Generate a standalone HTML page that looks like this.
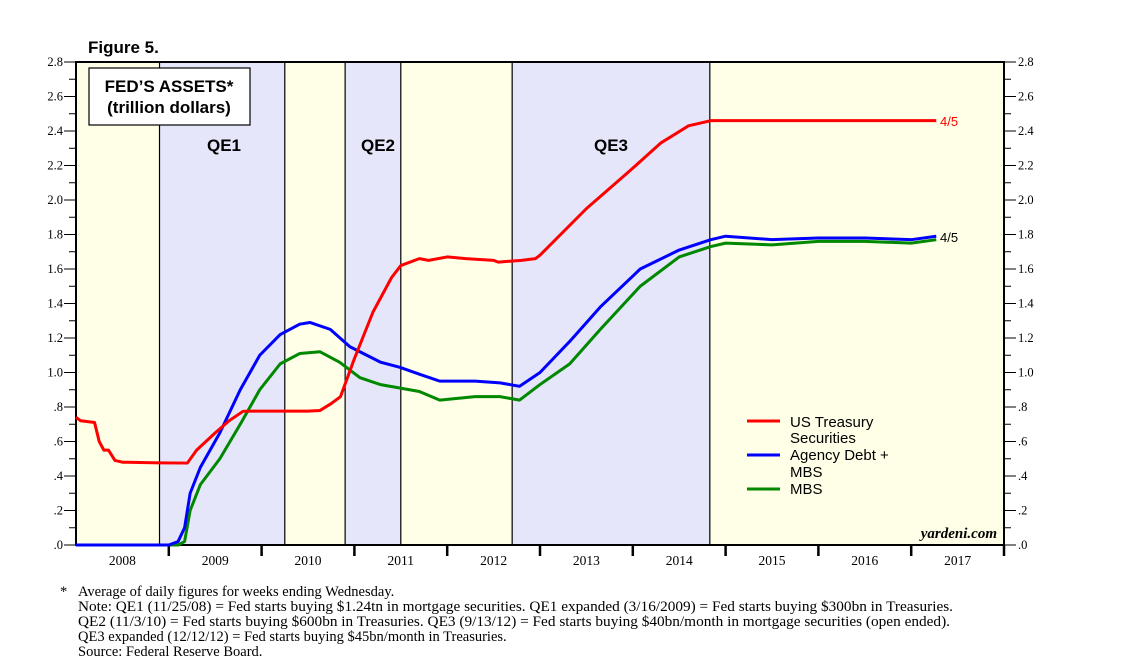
<!DOCTYPE html>
<html><head><meta charset="utf-8"><style>
body{margin:0;background:#fff;width:1138px;height:670px;overflow:hidden}
svg{display:block}
.s{font-family:"Liberation Sans",sans-serif}
.r{font-family:"Liberation Serif",serif}
</style></head><body>
<svg id="c" width="1138" height="670">
<text x="88" y="53" class="s" font-size="17" font-weight="bold">Figure 5.</text>
<g id="bands"></g>
<g id="axes"></g>
<g id="lines"></g>
<rect x="89" y="68" width="161" height="57" fill="#fff" stroke="#000" stroke-width="1.2"/>
<text x="169" y="92" text-anchor="middle" class="s" font-size="17" font-weight="bold">FED’S ASSETS*</text>
<text x="169" y="113" text-anchor="middle" class="s" font-size="17" font-weight="bold">(trillion dollars)</text>
<text x="224" y="151" text-anchor="middle" class="s" font-size="17" font-weight="bold">QE1</text>
<text x="378" y="151" text-anchor="middle" class="s" font-size="17" font-weight="bold">QE2</text>
<text x="611" y="151" text-anchor="middle" class="s" font-size="17" font-weight="bold">QE3</text>
<g>
<line x1="747" y1="421" x2="780" y2="421" stroke="#f00" stroke-width="3"/>
<text x="790" y="427" class="s" font-size="15">US Treasury</text>
<text x="790" y="443" class="s" font-size="15">Securities</text>
<line x1="747" y1="455" x2="780" y2="455" stroke="#00f" stroke-width="3"/>
<text x="790" y="460" class="s" font-size="15">Agency Debt +</text>
<text x="790" y="477" class="s" font-size="15">MBS</text>
<line x1="747" y1="489" x2="780" y2="489" stroke="#080" stroke-width="3"/>
<text x="790" y="494" class="s" font-size="15">MBS</text>
</g>
<text x="997" y="538" text-anchor="end" class="r" font-size="15" font-style="italic" font-weight="bold">yardeni.com</text>
<text x="940" y="126" class="s" font-size="13" fill="#f00">4/5</text>
<text x="940" y="242" class="s" font-size="13">4/5</text>
<g class="r" font-size="14.5">
<text x="60" y="596">*</text>
<text x="78" y="596">Average of daily figures for weeks ending Wednesday.</text>
<text x="78" y="611" textLength="875" lengthAdjust="spacingAndGlyphs">Note: QE1 (11/25/08) = Fed starts buying $1.24tn in mortgage securities. QE1 expanded (3/16/2009) = Fed starts buying $300bn in Treasuries.</text>
<text x="78" y="626" textLength="872" lengthAdjust="spacingAndGlyphs">QE2 (11/3/10) = Fed starts buying $600bn in Treasuries. QE3 (9/13/12) = Fed starts buying $40bn/month in mortgage securities (open ended).</text>
<text x="78" y="641">QE3 expanded (12/12/12) = Fed starts buying $45bn/month in Treasuries.</text>
<text x="78" y="656">Source: Federal Reserve Board.</text>
</g>
</svg>
<script>
const years=[2008,2009,2010,2011,2012,2013,2014,2015,2016,2017];
const yTicks=[0,0.2,0.4,0.6,0.8,1.0,1.2,1.4,1.6,1.8,2.0,2.2,2.4,2.6,2.8];
const yTickLabels=[".0",".2",".4",".6",".8","1.0","1.2","1.4","1.6","1.8","2.0","2.2","2.4","2.6","2.8"];
const bandStarts=[2008,2008.9,2010.25,2010.9,2011.5,2012.7,2014.83];
const bandEnds=[2008.9,2010.25,2010.9,2011.5,2012.7,2014.83,2018];
const bandKinds=["y","b","y","b","y","b","y"];
const tT=[2008,2008.05,2008.2,2008.25,2008.3,2008.35,2008.42,2008.5,2008.9,2009.2,2009.3,2009.5,2009.65,2009.8,2009.9,2010.5,2010.63,2010.75,2010.85,2011.0,2011.2,2011.4,2011.5,2011.7,2011.8,2012.0,2012.2,2012.5,2012.55,2012.8,2012.95,2013.0,2013.5,2013.97,2014.3,2014.6,2014.84,2017.27];
const tV=[0.74,0.72,0.71,0.6,0.55,0.55,0.49,0.48,0.476,0.475,0.55,0.65,0.72,0.775,0.776,0.776,0.78,0.82,0.86,1.08,1.35,1.55,1.62,1.66,1.65,1.67,1.66,1.65,1.64,1.65,1.66,1.68,1.95,2.17,2.33,2.43,2.46,2.46];
const aT=[2008,2009.0,2009.1,2009.17,2009.23,2009.34,2009.55,2009.77,2009.98,2010.2,2010.41,2010.52,2010.74,2010.95,2011.28,2011.49,2011.7,2011.92,2012.3,2012.57,2012.78,2013.0,2013.32,2013.65,2014.08,2014.5,2014.84,2015.0,2015.5,2016.0,2016.5,2017.0,2017.27];
const aV=[0,0,0.02,0.1,0.3,0.45,0.65,0.9,1.1,1.22,1.28,1.29,1.25,1.15,1.06,1.03,0.99,0.95,0.95,0.94,0.92,1.0,1.18,1.38,1.6,1.71,1.77,1.79,1.77,1.78,1.78,1.77,1.79];
const mT=[2008,2009.1,2009.17,2009.23,2009.34,2009.55,2009.77,2009.98,2010.2,2010.41,2010.63,2010.84,2011.06,2011.28,2011.7,2011.92,2012.3,2012.57,2012.78,2013.0,2013.32,2013.65,2014.08,2014.5,2014.84,2015.0,2015.5,2016.0,2016.5,2017.0,2017.27];
const mV=[0,0,0.02,0.2,0.35,0.5,0.7,0.9,1.05,1.11,1.12,1.06,0.97,0.93,0.89,0.84,0.86,0.86,0.84,0.93,1.05,1.25,1.5,1.67,1.73,1.75,1.74,1.76,1.76,1.75,1.77];

const X0=76,X1=1004,Y0=545,Y1=62;
const xs=t=>X0+(t-2008)/10*(X1-X0);
const ys=v=>Y0-v/2.8*(Y0-Y1);
const NS="http://www.w3.org/2000/svg";
function mk(tag,attrs,parent){const e=document.createElementNS(NS,tag);for(const k in attrs)e.setAttribute(k,attrs[k]);document.getElementById(parent).appendChild(e);return e;}
bandStarts.forEach((s,i)=>{
  const x=xs(s),x2=Math.min(xs(bandEnds[i]),X1);
  const r=mk("rect",{x:x,y:Y1,width:x2-x,height:Y0-Y1,fill:bandKinds[i]=="y"?"#fffee6":"#e6e6fa"},"bands");
  
  
  if(i>0){mk("line",{x1:x,y1:Y1,x2:x,y2:Y0,stroke:"#000","stroke-width":1.2},"bands");}
});
mk("rect",{x:X0,y:Y1,width:X1-X0,height:Y0-Y1,fill:"none",stroke:"#000","stroke-width":2},"axes");
for(let v=0;v<=2.81;v+=0.1){
  const y=ys(v),maj=Math.round(v*10)%2==0;
  mk("line",{x1:X0-(maj?12:7),y1:y,x2:X0,y2:y,stroke:"#000","stroke-width":1},"axes");
  mk("line",{x1:X1,y1:y,x2:X1+(maj?12:7),y2:y,stroke:"#000","stroke-width":1},"axes");
}
yTicks.forEach((v,i)=>{
  const l=mk("text",{x:X0-13,y:ys(v)+4,"text-anchor":"end","font-size":12.5,"font-family":"Liberation Serif,serif"},"axes");
  l.textContent=yTickLabels[i];
  
  
  const r=mk("text",{x:X1+14,y:ys(v)+4,"font-size":12.5,"font-family":"Liberation Serif,serif"},"axes");
  r.textContent=yTickLabels[i];
  
  
});
years.forEach(yr=>{
  if(yr>2008)mk("line",{x1:xs(yr),y1:Y0,x2:xs(yr),y2:Y0+11,stroke:"#000","stroke-width":2.5},"axes");
  const t=mk("text",{x:xs(yr+0.5),y:Y0+20,"text-anchor":"middle","font-size":13.5,"font-family":"Liberation Serif,serif"},"axes");
  t.textContent=yr;
  
  
});
mk("line",{x1:X1,y1:Y0,x2:X1,y2:Y0+11,stroke:"#000","stroke-width":2.5},"axes");
function line(T,V,c,name){
  const p=mk("polyline",{points:T.map((t,i)=>xs(t)+","+ys(V[i])).join(" "),fill:"none",stroke:c,"stroke-width":3,"stroke-linejoin":"round"},"lines");
  
  
}
line(mT,mV,"#080","mbs-line");
line(aT,aV,"#00f","agency-mbs-line");
line(tT,tV,"#f00","treasury-line");
</script>
</body></html>
